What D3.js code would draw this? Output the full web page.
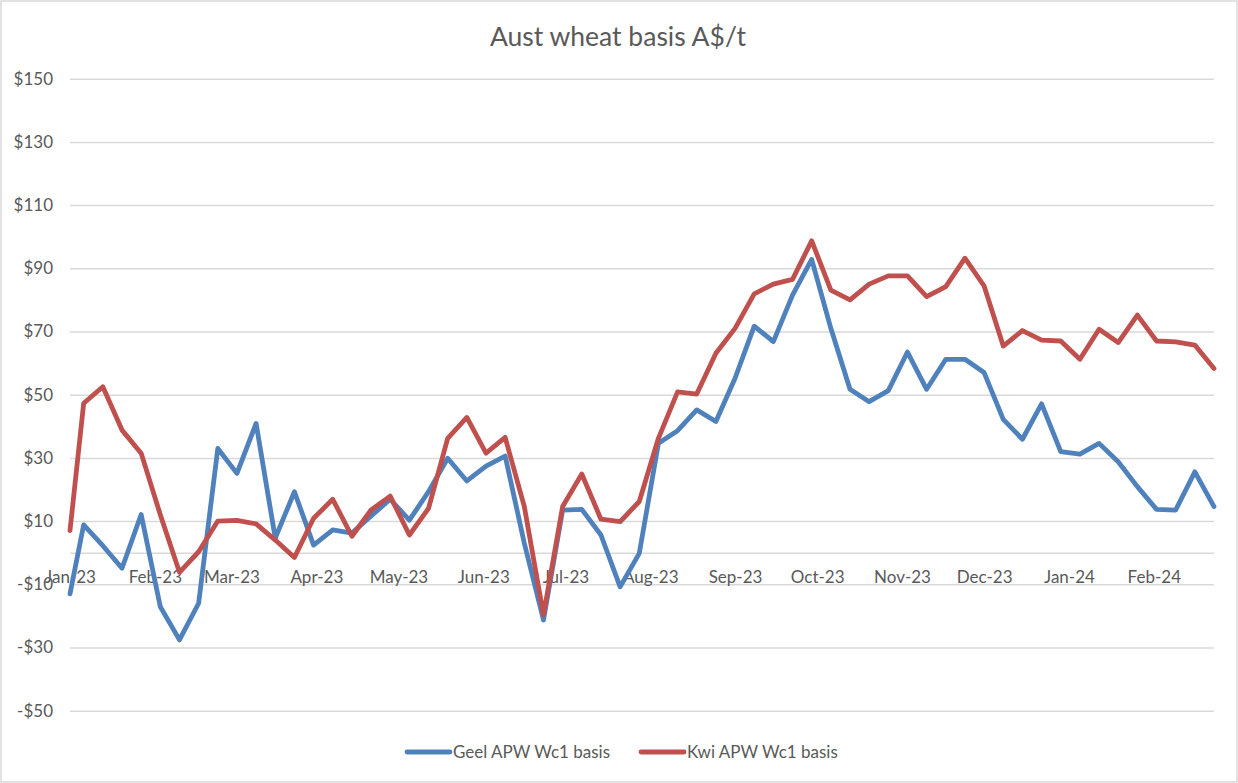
<!DOCTYPE html>
<meta charset="utf-8">
<script src="https://d3js.org/d3.v7.min.js"></script>
<style>
  body { margin: 0; background: #fff; }
  text { font-family: Lato, "Open Sans", sans-serif; fill: #595959; }
</style>
<div id="chart"></div>
<script>

// weekly observations (first point is the axis start)
var dates = ["2023-01-01",
  "2023-01-06","2023-01-13","2023-01-20","2023-01-27","2023-02-03","2023-02-10","2023-02-17","2023-02-24",
  "2023-03-03","2023-03-10","2023-03-17","2023-03-24","2023-03-31","2023-04-07","2023-04-14","2023-04-21",
  "2023-04-28","2023-05-05","2023-05-12","2023-05-19","2023-05-26","2023-06-02","2023-06-09","2023-06-16",
  "2023-06-23","2023-06-30","2023-07-07","2023-07-14","2023-07-21","2023-07-28","2023-08-04","2023-08-11",
  "2023-08-18","2023-08-25","2023-09-01","2023-09-08","2023-09-15","2023-09-22","2023-09-29","2023-10-06",
  "2023-10-13","2023-10-20","2023-10-27","2023-11-03","2023-11-10","2023-11-17","2023-11-24","2023-12-01",
  "2023-12-08","2023-12-15","2023-12-22","2023-12-29","2024-01-05","2024-01-12","2024-01-19","2024-01-26",
  "2024-02-02","2024-02-09","2024-02-16","2024-02-23"];

var geel = [-13, 8.8, 2.2, -4.9, 12.1, -17.1, -27.6, -16, 33, 25.1, 40.9, 4.6, 19.3, 2.4, 7.2, 6.2,
  11.6, 16.9, 10.3, 19.3, 29.9, 22.7, 27.4, 30.6, 3, -21.3, 13.5, 13.7, 5.6, -10.8, -0.2,
  34.6, 38.6, 45.2, 41.5, 55.2, 71.7, 66.8, 81.5, 92.8, 71, 51.7, 47.8, 51.3, 63.5, 51.7,
  61.2, 61.2, 57, 42.2, 35.9, 47.1, 32, 31.2, 34.6, 28.8, 20.9, 13.7, 13.5, 25.6, 14.6];

var kwi = [7, 47.3, 52.5, 38.8, 31.5, 12, -6.2, 0.3, 10, 10.2, 9.1, 4, -1.5, 10.9, 16.9, 5.2,
  13.5, 17.9, 5.6, 14, 36.2, 42.8, 31.5, 36.5, 14.6, -19.7, 14.6, 24.9, 10.6, 9.8, 16.2,
  36.2, 50.9, 50.2, 63.1, 71, 81.9, 85, 86.5, 98.7, 83.1, 80, 85, 87.6, 87.6, 81,
  84.2, 93.2, 84.4, 65.4, 70.3, 67.3, 67, 61.2, 70.7, 66.5, 75.2, 67, 66.7, 65.7, 58.3];

var monthTicks = ["2023-01-01","2023-02-01","2023-03-01","2023-04-01","2023-05-01","2023-06-01",
  "2023-07-01","2023-08-01","2023-09-01","2023-10-01","2023-11-01","2023-12-01","2024-01-01","2024-02-01"];

var yTicks = [-50, -30, -10, 10, 30, 50, 70, 90, 110, 130, 150];

var seriesNames = ["Geel APW Wc1 basis", "Kwi APW Wc1 basis"];
var seriesColors = ["#4f81bd", "#c0504d"];

var W = 1238, H = 783;
var margin = {top: 78.7, right: 24, bottom: 72.3, left: 70};

var parse = d3.timeParse("%Y-%m-%d");
var fmtMonth = d3.timeFormat("%b-%y");

var svg = d3.select("#chart").append("svg")
    .attr("width", W)
    .attr("height", H);

svg.append("rect")
    .attr("x", 1).attr("y", 1)
    .attr("width", W - 2).attr("height", H - 2)
    .attr("fill", "#fff")
    .attr("stroke", "#d9d9d9")
    .attr("stroke-width", 1.5);

var x = d3.scaleTime()
    .domain([parse(dates[0]), parse(dates[dates.length - 1])])
    .range([margin.left, W - margin.right]);

var y = d3.scaleLinear()
    .domain([-50, 150])
    .range([H - margin.bottom, margin.top]);

// horizontal gridlines
var yAxis = svg.append("g")
    .attr("transform", "translate(" + margin.left + ",0)")
    .call(d3.axisLeft(y)
        .tickValues(yTicks)
        .tickSize(-(W - margin.left - margin.right))
        .tickPadding(17)
        .tickFormat(function(d) { return (d < 0 ? "-$" : "$") + Math.abs(d); }));
yAxis.select(".domain").remove();
yAxis.selectAll(".tick line").attr("stroke", "#d9d9d9").attr("stroke-width", 1.5);
yAxis.selectAll(".tick text")
    .style("font-size", "17px")
    .attr("fill", "#595959");

// category axis at zero
var xAxis = svg.append("g")
    .attr("transform", "translate(0," + y(0) + ")")
    .call(d3.axisBottom(x)
        .tickValues(monthTicks.map(parse))
        .tickSize(0)
        .tickPadding(18)
        .tickFormat(fmtMonth));
xAxis.select(".domain")
    .attr("stroke", "#d9d9d9")
    .attr("stroke-width", 1.5);
xAxis.selectAll(".tick text")
    .style("font-size", "17px")
    .attr("fill", "#595959");

// lines
var line = d3.line()
    .x(function(d, i) { return x(parse(dates[i])); })
    .y(function(d) { return y(d); });

[geel, kwi].forEach(function(s, i) {
    svg.append("path")
        .datum(s)
        .attr("fill", "none")
        .attr("stroke", seriesColors[i])
        .attr("stroke-width", 4.8)
        .attr("stroke-linejoin", "round")
        .attr("stroke-linecap", "round")
        .attr("d", line);
});

// title
svg.append("text")
    .attr("x", 618)
    .attr("y", 46)
    .attr("text-anchor", "middle")
    .style("font-size", "26.5px")
    .text("Aust wheat basis A$/t");

// legend
var legendX = [407, 641];
seriesNames.forEach(function(name, i) {
    var g = svg.append("g").attr("transform", "translate(" + legendX[i] + ",752)");
    g.append("line")
        .attr("x1", 0).attr("x2", 43)
        .attr("stroke", seriesColors[i])
        .attr("stroke-width", 4.8)
        .attr("stroke-linecap", "round");
    g.append("text")
        .attr("x", 46)
        .attr("dy", "0.35em")
        .style("font-size", "17px")
        .text(name);
});

</script>
